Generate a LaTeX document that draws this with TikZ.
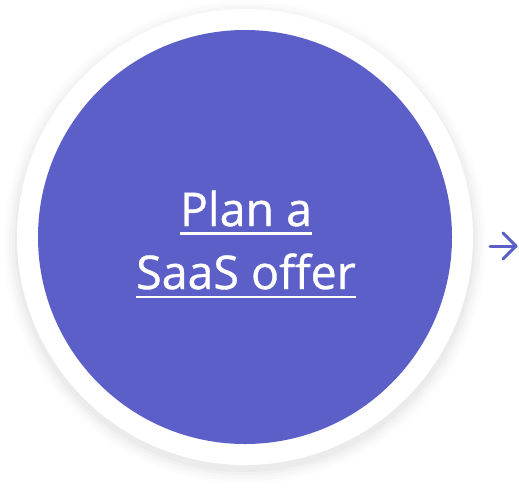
\documentclass[tikz,border=0pt]{standalone}
\usepackage{fontspec}
\setmainfont{Open Sans}
\newfontfamily\lblfont[FakeBold=0.8]{Open Sans}
\definecolor{msp}{HTML}{5B5FC7}
\tikzset{
  lbl/.style={text=white, font=\lblfont\fontsize{46.5}{52}\selectfont, inner xsep=0pt, inner ysep=0pt, anchor=base},
  uline/.style={draw=white, line width=2.4pt},
  arr/.style={draw=msp, line width=3pt, line cap=round, line join=round}
}
\begin{document}
\begin{tikzpicture}[x=1pt,y=-1pt]
\useasboundingbox[fill=white] (0,0) rectangle (519,491);
% soft shadow
\foreach \r/\o in {242/0.008,239/0.010,236/0.014,233/0.018,230/0.024}{
  \fill[black,opacity=\o] (245,242) circle (\r);
}
\node[circle, fill=white, minimum size=456pt, inner sep=0pt] (outer) at (245,237) {};
\node[circle, fill=msp, minimum size=414pt, inner sep=0pt] (inner) at (245,237) {};
\node[lbl] (t1) at (246,226) {Plan a};
\node[lbl] (t2) at (246,289) {SaaS offer};
\draw[uline] ([yshift=-7.5pt]t1.base west) -- ([yshift=-7.5pt]t1.base east);
\draw[uline] ([yshift=-8pt]t2.base west) -- ([yshift=-8pt]t2.base east);
\coordinate (s) at (490,246);
\coordinate (e) at (516,246);
\coordinate (h1) at (503,233);
\coordinate (h2) at (503,259);
\draw[arr] (s) -- (e);
\draw[arr] (h1) -- (e) -- (h2);
\end{tikzpicture}
\end{document}
